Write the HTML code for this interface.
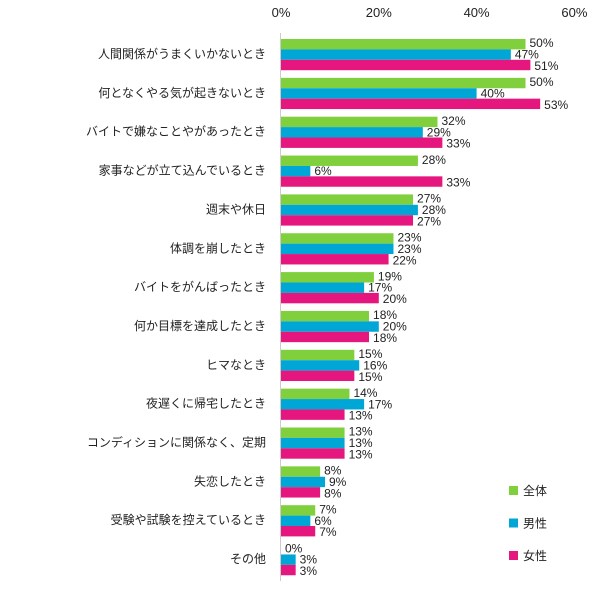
<!DOCTYPE html>
<html><head><meta charset="utf-8"><style>
body{margin:0;background:#fff;width:616px;height:592px;overflow:hidden}
svg text{font-family:"Liberation Sans","Noto Sans CJK JP",sans-serif;fill:#222}
</style></head><body>
<svg id="c" width="616" height="592"></svg>
<script>
const categories=["人間関係がうまくいかないとき","何となくやる気が起きないとき","バイトで嫌なことやがあったとき","家事などが立て込んでいるとき","週末や休日","体調を崩したとき","バイトをがんばったとき","何か目標を達成したとき","ヒマなとき","夜遅くに帰宅したとき","コンディションに関係なく、定期","失恋したとき","受験や試験を控えているとき","その他"];
const allValues=[50,50,32,28,27,23,19,18,15,14,13,8,7,0];
const maleValues=[47,40,29,6,28,23,17,20,16,17,13,9,6,3];
const femaleValues=[51,53,33,33,27,22,20,18,15,13,13,8,7,3];
const seriesNames=["全体","男性","女性"];
const ticks=[0,20,40,60];
const colors=["#7fd03c","#00a6d6","#e5177e"];
const svg=document.getElementById('c');const NS="http://www.w3.org/2000/svg";
function x(v){return 281+v*4.89;}
function rowY(i){return 39+i*38.85;}
const BH=10.4;
function mk(t,a,name){const e=document.createElementNS(NS,t);for(const k in a)e.setAttribute(k,a[k]);


svg.appendChild(e);return e;}
ticks.forEach(t=>{const e=mk('text',{x:x(t),y:17,'text-anchor':'middle','font-size':13},'x-tick-label');e.textContent=t+'%';});
mk('line',{x1:280.5,x2:280.5,y1:33,y2:581,stroke:'#ccc','stroke-width':1},'y-axis-line');
const series=[allValues,maleValues,femaleValues];
categories.forEach((c,i)=>{
 const l=mk('text',{x:266,y:rowY(i)+19,'text-anchor':'end','font-size':12},'category-label');l.textContent=c;
 series.forEach((s,j)=>{
  const y=rowY(i)+j*BH;
  mk('rect',{x:x(0),y:y,width:x(s[i])-x(0),height:BH,fill:colors[j]},'bar');
  const t=mk('text',{x:x(s[i])+4,y:y+BH/2+4+(j-1)*1,'font-size':12},'value-label');t.textContent=s[i]+'%';
 });
});
seriesNames.forEach((n,j)=>{
 const y=486+j*32.5;
 mk('rect',{x:509,y:y,width:9,height:9,fill:colors[j]},'legend-swatch');
 const t=mk('text',{x:523,y:y+9,'font-size':12},'legend-entry');t.textContent=n;
});
</script>
</body></html>
